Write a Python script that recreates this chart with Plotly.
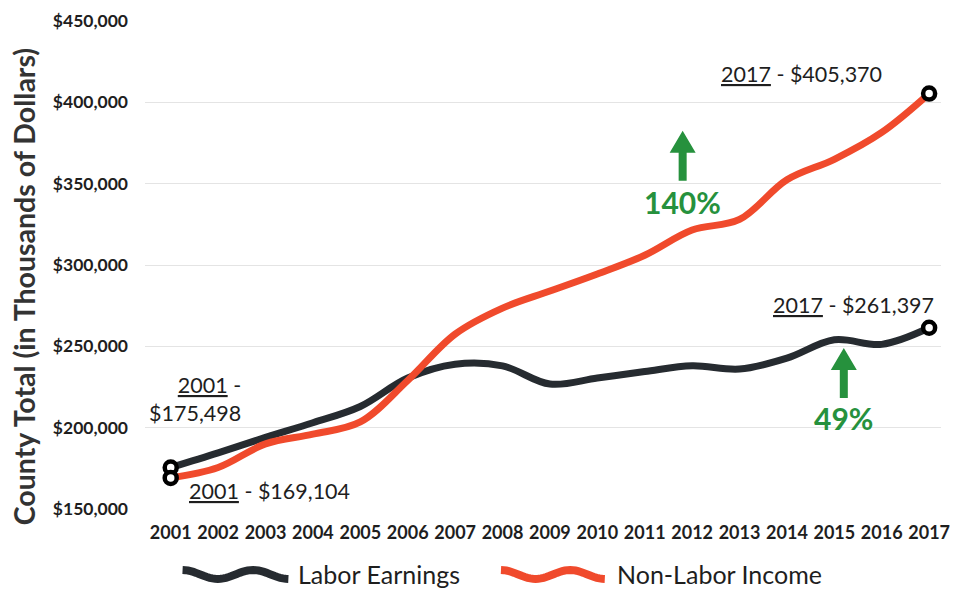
import numpy as np
import plotly.graph_objects as go

years = list(range(2001, 2018))
labor_earnings = [175498, 184500, 194000, 203000, 213000, 230500, 239000, 238000,
                  226800, 230500, 234500, 238000, 236000, 242700, 254000, 251200, 261397]
non_labor_income = [169104, 175500, 190000, 196000, 203500, 229000, 257500, 273500,
                    284000, 294500, 306000, 321500, 328000, 352400, 365000, 381500, 405370]
y_ticks = [150000, 200000, 250000, 300000, 350000, 400000, 450000]
y_tick_labels = ["$150,000", "$200,000", "$250,000", "$300,000", "$350,000", "$400,000", "$450,000"]

DARK = "#262b30"
ORANGE = "#f04a2c"
GREEN = "#26913d"
TEXT = "#1e1e1e"
FONT = "Lato"

W, H = 960, 592
ML, MR, MT, MB = 145, 10, 17, 83
PW, PH = W - ML - MR, H - MT - MB


def px_to_paper(px, py):
    return (px - ML) / PW, (H - MB - py) / PH


fig = go.Figure()

for vals, color, name in [(labor_earnings, DARK, "Labor Earnings"),
                          (non_labor_income, ORANGE, "Non-Labor Income")]:
    fig.add_trace(go.Scatter(x=years, y=vals, mode="lines", name=name,
                             line=dict(color=color, width=7, shape="spline", smoothing=1.0),
                             showlegend=False, hoverinfo="x+y"))

# endpoint markers
for vals in [labor_earnings, non_labor_income]:
    fig.add_trace(go.Scatter(x=[years[0], years[-1]], y=[vals[0], vals[-1]], mode="markers",
                             marker=dict(size=12, color="white", line=dict(color="black", width=4.5)),
                             showlegend=False, hoverinfo="skip"))

annotations = []


def label(text, x, y, xanchor, xshift, yshift, align="left"):
    annotations.append(dict(x=x, y=y, xref="x", yref="y", text=text, showarrow=False,
                            xanchor=xanchor, yanchor="middle", xshift=xshift, yshift=yshift,
                            align=align, font=dict(family=FONT, size=21.5, color=TEXT)))


label(f"<u>{years[-1]}</u> - ${non_labor_income[-1]:,}", years[-1], non_labor_income[-1], "right", -45, 20)
label(f"<u>{years[-1]}</u> - ${labor_earnings[-1]:,}", years[-1], labor_earnings[-1], "right", 7, 23)
label(f"<u>{years[0]}</u> -<br>${labor_earnings[0]:,}", years[0], labor_earnings[0], "right", 72, 69, align="right")
label(f"<u>{years[0]}</u> - ${non_labor_income[0]:,}", years[0], non_labor_income[0], "left", 16, -13)

# growth percentages with arrows
growth_nl = round((non_labor_income[-1] / non_labor_income[0] - 1) * 100)
growth_le = round((labor_earnings[-1] / labor_earnings[0] - 1) * 100)
arrow_path = "M-4,0 L4,0 L4,28 L13,28 L0,50 L-13,28 L-4,28 Z"
for text, ax_year, base_val, text_shift in [(f"{growth_nl}%", 2011.8, 351800, -21),
                                            (f"{growth_le}%", 2015.2, 218300, -20)]:
    fig.add_shape(type="path", xref="x", yref="y", xsizemode="pixel", ysizemode="pixel",
                  xanchor=ax_year, yanchor=base_val, path=arrow_path,
                  fillcolor=GREEN, line=dict(width=0))
    annotations.append(dict(x=ax_year, y=base_val, xref="x", yref="y", text=f"<b>{text}</b>",
                            showarrow=False, xanchor="center", yanchor="middle", yshift=text_shift,
                            font=dict(family=FONT, size=30, color=GREEN)))

# y axis title
tx, ty = px_to_paper(22, 285)
annotations.append(dict(x=tx, y=ty, xref="paper", yref="paper", text="<b>County Total (in Thousands of Dollars)</b>",
                        textangle=-90, showarrow=False, xanchor="center", yanchor="middle",
                        font=dict(family=FONT, size=28.5, color="#333333")))

# legend: wavy swatches with labels
legend_items = [("Labor Earnings", DARK, 183, 290, 298), ("Non-Labor Income", ORANGE, 505, 610, 620)]
for name, color, x0, x1, tx0 in legend_items:
    t = np.linspace(0, 1, 40)
    xs = x0 + (x1 - x0) * t
    ys = 575 - 4.5 * np.cos(2 * np.pi * 1.5 * t)
    pts = [px_to_paper(a, b) for a, b in zip(xs, ys)]
    path = "M" + " L".join(f"{a:.5f},{b:.5f}" for a, b in pts)
    fig.add_shape(type="path", xref="paper", yref="paper", path=path,
                  line=dict(color=color, width=8))
    lx, ly = px_to_paper(tx0, 575)
    annotations.append(dict(x=lx, y=ly, xref="paper", yref="paper", text=name, showarrow=False,
                            xanchor="left", yanchor="middle",
                            font=dict(family=FONT, size=25, color=TEXT)))

x0_year = 2001 - 26 / 47.94
x1_year = 2017 + 12 / 47.94

fig.update_layout(
    width=W, height=H,
    margin=dict(l=ML, r=MR, t=MT, b=MB),
    paper_bgcolor="white", plot_bgcolor="white",
    showlegend=False,
    annotations=annotations,
    xaxis=dict(range=[x0_year, x1_year], tickmode="array", tickvals=years,
               ticktext=[f"<b>{y}</b>" for y in years], showgrid=False, zeroline=False,
               showline=False, ticks="", ticklabelstandoff=11,
               tickfont=dict(family=FONT, size=18, color=TEXT)),
    yaxis=dict(range=[150000, 450000], tickmode="array", tickvals=y_ticks,
               ticktext=[f"<b>{t}</b>" for t in y_tick_labels], showgrid=True,
               gridcolor="#e4e4e4", gridwidth=1, zeroline=False, showline=False, ticks="",
               ticklabelstandoff=16, tickfont=dict(family=FONT, size=17.5, color=TEXT)),
)

fig.write_html("out.html")
